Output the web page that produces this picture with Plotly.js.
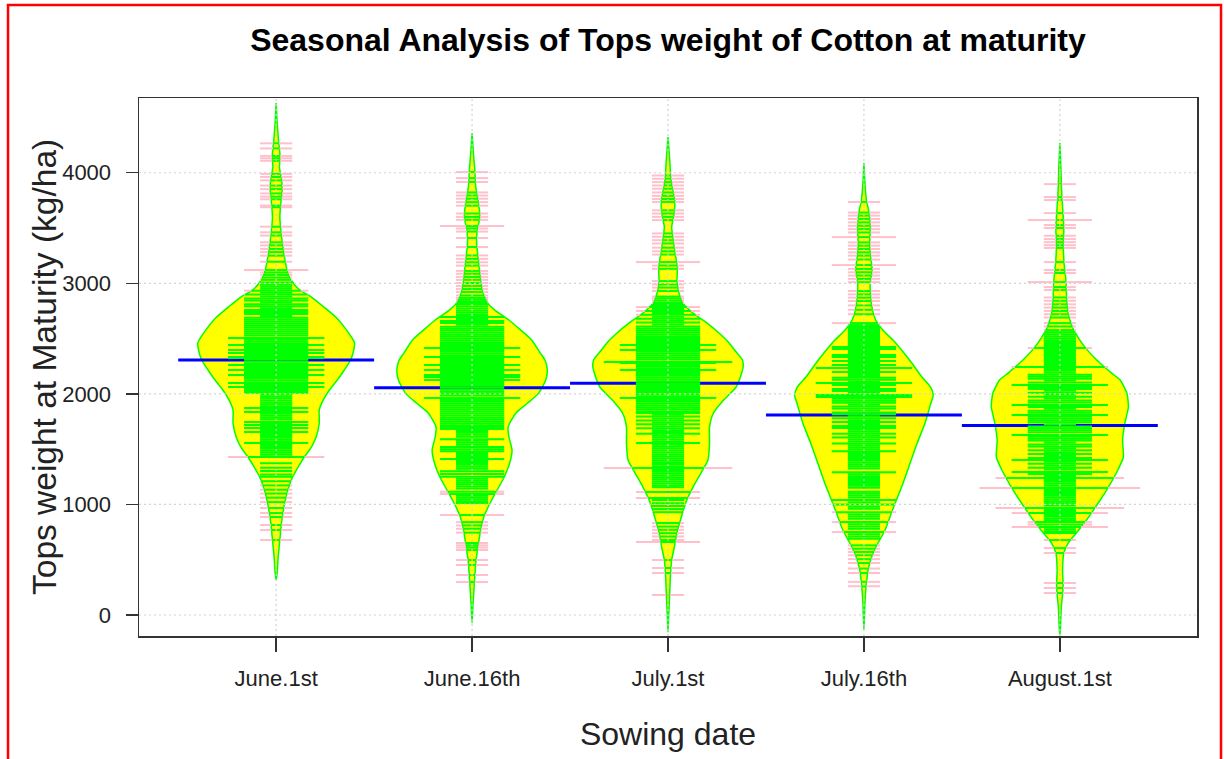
<!DOCTYPE html>
<html><head><meta charset="utf-8">
<script src="https://cdn.plot.ly/plotly-3.0.1.min.js"></script>
<style>html,body{margin:0;padding:0;background:#fff}#chart{width:1224px;height:759px}</style>
</head><body><div id="chart"></div>
<script>
const categories = ["June.1st", "June.16th", "July.1st", "July.16th", "August.1st"];
const meanWeight = [2306, 2055, 2095, 1809, 1715];
const yTicks = [0, 1000, 2000, 3000, 4000];

// individual observations (kg/ha); repeated values = identical observations (stacked beanlines)
const obsJune1 = [4266,4220,4152,4131,4108,3990,3962,3931,3884,3852,3813,3784,3760,3703,3688,3512,3461,3432,3371,3343,3311,3282,3250,3195,3120,3120,
3098,3076,3052,3031,3008,2987,2968,
2950,2933,2933,2915,2898,2898,2880,2862,2862,2845,2845,2828,2810,2810,2793,2793,2775,2758,2758,2740,2740,2722,2722,2705,2688,2688,2670,2670,
2652,2652,2635,2635,2617,2617,2600,2600,2582,2582,2565,2565,2547,2547,2528,2528,2505,2505,2505,2490,2490,2472,2472,2456,2456,2442,2442,2442,2425,2425,2410,2410,2396,2396,2396,2383,2383,2370,2370,2370,2352,2352,2333,2333,2333,2324,2324,2324,2310,2310,2292,2292,2276,2276,2261,2261,2261,2244,2244,2230,2230,2215,2215,2215,2198,2198,2184,2184,2170,2170,2170,2152,2152,2136,2136,2118,2118,2098,2098,2098,2080,2080,2062,2062,2062,2045,2045,2027,2027,2010,2010,
1992,1975,1958,1940,1922,1905,1888,1872,1872,1855,1836,1836,1820,1802,1785,1768,1745,1745,1730,1718,1718,1703,1691,1691,1674,1655,1655,1638,1620,1603,1585,1570,1555,1555,1538,1520,1503,1486,1468,1450,1429,1429,1429,
1372,1331,1302,1271,1250,1210,1172,1133,1098,1061,1021,968,922,886,814,769,678];

const obsJune16 = [4006,3952,3916,3822,3794,3765,3734,3702,3631,3601,3574,3518,3518,3496,3468,3410,3328,3252,3221,3190,3160,3112,3086,3058,3031,3002,2976,2948,2921,2890,
2868,2850,2831,2812,2793,2772,2752,2733,2714,
2695,2695,2678,2660,2660,2642,2642,2625,2607,2607,2590,2590,2572,2572,2555,2555,2537,2537,2520,2520,2502,2502,2485,2485,2467,2467,2450,2450,2432,2432,2414,2414,2414,2397,2397,2380,2380,2362,2362,2345,2345,2333,2333,2333,2315,2315,2298,2298,2280,2280,2261,2261,2261,2244,2244,2230,2230,2216,2216,2216,2198,2198,2184,2184,2170,2170,2170,2152,2152,2152,2138,2138,2125,2125,2125,2108,2108,2090,2090,2073,2073,2055,2055,2038,2038,2020,2020,2003,2003,1985,1985,1962,1962,1962,1945,1945,1928,1928,1910,1910,1893,1893,1875,1875,1858,1858,1840,1840,1822,1822,1805,1805,1787,1787,1770,1770,1752,1752,1735,1735,1717,1717,1700,1700,1683,1683,
1665,1648,1630,1612,1590,1590,1575,1557,1540,1520,1520,1500,1500,1480,1480,1465,1448,1430,1410,1410,1393,1375,1358,1340,1322,1300,1300,1275,1275,1250,1250,1232,1215,1197,1180,1162,1145,1115,1115,1095,1095,1078,1060,1042,1025,1013,
904,904,840,810,780,745,651,630,610,588,497,452,362,298];

const obsJuly1 = [3975,3946,3915,3885,3855,3822,3791,3762,3735,3660,3631,3601,3572,3451,3421,3390,3360,3322,3290,3260,3192,3192,3160,3131,3020,2990,2961,2930,
2880,2862,2843,2822,2803,
2785,2785,2768,2750,2750,2732,2715,2715,2697,2680,2680,2662,2645,2645,2627,2610,2610,
2592,2592,2575,2575,2557,2557,2540,2540,2522,2522,2505,2505,2487,2487,2470,2470,2455,2455,2442,2442,2442,2425,2425,2410,2410,2396,2396,2396,2380,2380,2362,2362,2345,2345,2327,2327,2310,2310,2288,2288,2288,2288,2279,2279,2279,2262,2262,2245,2245,2230,2230,2216,2216,2216,2198,2198,2180,2180,2163,2163,2145,2145,2128,2128,2110,2110,2095,2095,2080,2080,2062,2062,2045,2045,2027,2027,2010,2010,1992,1992,1975,1975,1962,1962,1962,1945,1945,1928,1928,1910,1910,1893,1893,1875,1875,1858,1858,1840,1840,1827,1827,
1810,1795,1795,1778,1760,1760,1742,1725,1725,1708,1690,1690,1672,1655,1640,1640,1622,1605,1587,1570,1555,1555,1540,1522,1505,1487,1470,1452,1435,1417,1400,1382,1365,1346,1329,1329,1329,1329,1312,1295,1277,1260,1242,1225,1208,1190,1172,1155,1112,1112,1058,1058,1040,1010,985,958,930,832,800,770,740,710,678,660,660,497,425,380,181];

const obsJuly16 = [3735,3640,3612,3582,3551,3520,3490,3460,3418,3418,3370,3340,3310,3280,3250,3215,3165,3165,3130,3100,3070,3040,3010,2930,2900,2870,2840,2800,2760,2720,2640,2640,
2622,2604,2586,2568,2550,2532,2514,2496,2478,2460,2442,2424,2424,2406,2406,2388,2370,2352,2352,2334,2334,2316,2298,2298,2280,2262,2262,2245,2233,2233,2233,2215,2198,2198,2180,2162,2145,2145,2128,2128,2110,2098,2098,2098,2080,2080,2062,2045,2045,2027,2027,2010,1990,1990,1990,1971,1971,1971,1955,1955,1938,1938,1920,1920,1902,1885,1885,1868,1868,1850,1832,1832,1815,1815,1798,1780,1780,1762,1745,1745,1728,1710,1710,1692,1692,1675,1658,1640,1640,1622,1605,1605,1588,1570,1552,1552,1535,1518,1500,1482,1482,1465,1448,1430,1412,1395,1378,1360,1342,1325,1290,1290,1272,1255,1238,1220,1202,1185,1168,1150,1115,1098,1080,1062,1040,1040,1020,1000,1000,980,962,930,930,910,890,870,840,840,820,800,780,750,750,730,710,690,
630,600,570,540,505,470,420,380,300,260];

const obsAugust1 = [3897,3780,3753,3635,3572,3572,3527,3500,3430,3400,3372,3345,3320,3192,3120,3093,3011,3011,2966,2939,2872,2842,2810,2780,2750,2720,2690,2640,2610,
2577,2558,2540,2522,2504,2486,2468,2450,2432,2414,2414,2396,2378,2360,2342,2324,2306,2288,2270,2256,2243,2243,2243,2226,2208,2190,2172,2172,2155,2155,2137,2137,2120,2102,2102,2080,2080,2080,2062,2062,2045,2045,2028,2010,2010,1992,1975,1975,1958,1940,1940,1922,1922,1899,1899,1899,1882,1882,1865,1848,1848,1830,1830,1809,1809,1809,1792,1792,1775,1775,1757,1757,1740,1740,1722,1705,1705,1688,1688,1670,1670,1652,1652,1628,1628,1628,1612,1612,1595,1595,1578,1578,1560,1542,1542,1525,1525,1508,1490,1490,1472,1455,1455,1438,1420,1420,1402,1402,1402,1385,1367,1367,1350,1332,1332,1315,1293,1293,1293,1275,1275,1258,1239,1239,1239,1239,1222,1205,1188,1170,1148,1148,1148,1148,1148,1130,1112,1095,1078,1060,1043,1025,1008,990,968,968,968,968,950,935,922,922,922,905,888,870,855,840,840,818,818,796,796,796,775,758,741,678,605,561,289,244,199];

// bean density profiles (relative density, widest bean = 1)
const densLevelsJune1 = [316,380,525,678,832,977,1130,1248,1338,1429,1519,1610,1736,1854,1944,2035,2125,2216,2306,2396,2460,2514,2604,2695,2785,2876,2939,3030,3120,3237,3364,3482,3600,3725,3843,3934,4051,4142,4295,4449,4630];
const densJune1 = [0,.013,.026,.047,.068,.10,.15,.21,.28,.36,.45,.51,.55,.55,.60,.68,.78,.87,.95,.99,1.0,.96,.87,.76,.61,.45,.30,.19,.14,.106,.08,.06,.047,.06,.077,.07,.042,.051,.03,.013,0];
const densLevelsJune16 = [-72,109,253,380,497,651,769,886,1013,1130,1248,1375,1492,1610,1700,1827,1917,2007,2125,2216,2306,2369,2487,2577,2668,2758,2821,2912,3002,3120,3237,3364,3482,3599,3753,3870,4024,4178,4359];
const densJune16 = [0,.013,.026,.038,.051,.083,.11,.15,.23,.32,.41,.48,.51,.47,.46,.56,.71,.85,.94,.96,.93,.87,.76,.62,.47,.29,.20,.14,.115,.096,.077,.058,.067,.10,.077,.047,.035,.017,0];
const densLevelsJuly1 = [-153,-45,199,344,497,615,741,886,1040,1157,1284,1402,1555,1700,1827,1944,2062,2188,2250,2306,2396,2460,2550,2640,2731,2821,2912,3029,3147,3274,3391,3509,3635,3753,3870,3961,4115,4323];
const densJuly1 = [0,.006,.022,.03,.047,.081,.115,.17,.24,.32,.42,.51,.53,.53,.58,.71,.87,.94,.96,.95,.85,.78,.65,.50,.32,.19,.14,.115,.12,.09,.068,.047,.081,.086,.055,.035,.022,0];
const densLevelsJuly16 = [-136,109,289,407,525,651,769,922,1067,1194,1375,1555,1736,1917,1990,2062,2152,2279,2396,2487,2577,2668,2758,2876,3002,3120,3237,3364,3509,3635,3753,3906,4087];
const densJuly16 = [0,.013,.032,.054,.099,.18,.27,.35,.43,.50,.59,.68,.78,.855,.885,.85,.74,.61,.48,.37,.24,.15,.11,.086,.08,.106,.086,.074,.083,.067,.032,.013,0];
const densLevelsAugust1 = [-180,-136,72,253,407,561,651,741,859,1013,1157,1311,1429,1583,1736,1881,1971,2007,2125,2188,2306,2423,2514,2604,2731,2876,3029,3183,3328,3509,3690,3843,4051,4268];
const densAugust1 = [0,.006,.019,.042,.035,.051,.106,.21,.34,.49,.62,.74,.81,.80,.83,.875,.865,.855,.77,.66,.47,.32,.23,.16,.106,.086,.077,.054,.045,.051,.035,.022,.013,0];

// ---------- drawing ----------
const obsAll = [obsJune1, obsJune16, obsJuly1, obsJuly16, obsAugust1];
const levAll = [densLevelsJune1, densLevelsJune16, densLevelsJuly1, densLevelsJuly16, densLevelsAugust1];
const denAll = [densJune1, densJune16, densJuly1, densJuly16, densAugust1];
const BEAN_HALF = 0.40;   // half of the maximum bean width (x units)
const LINE_HALF = 0.082;  // half length of one beanline per stacked observation
const MEAN_HALF = 0.5;
const FONT = 'Liberation Sans, Arial, Helvetica, sans-serif';

function halfWidthAt(lev, den, v) {
  if (v <= lev[0] || v >= lev[lev.length - 1]) return 0;
  for (let i = 1; i < lev.length; i++) {
    if (v <= lev[i]) {
      const t = (v - lev[i - 1]) / (lev[i] - lev[i - 1]);
      return (den[i - 1] + t * (den[i] - den[i - 1])) * BEAN_HALF;
    }
  }
  return 0;
}

const traces = [];
// beans
categories.forEach((c, i) => {
  const pos = i + 1, lev = levAll[i], den = denAll[i];
  const xs = [], ys = [];
  for (let k = 0; k < lev.length; k++) { xs.push(pos + den[k] * BEAN_HALF); ys.push(lev[k]); }
  for (let k = lev.length - 1; k >= 0; k--) { xs.push(pos - den[k] * BEAN_HALF); ys.push(lev[k]); }
  traces.push({type: 'scatter', mode: 'lines', x: xs, y: ys, fill: 'toself', fillcolor: '#ffff00',
    line: {color: '#00ff00', width: 1.5, shape: 'spline', smoothing: 0.6}, hoverinfo: 'skip', showlegend: false});
});
// mean lines
{
  const xs = [], ys = [];
  categories.forEach((c, i) => { xs.push(i + 1 - MEAN_HALF, i + 1 + MEAN_HALF, null); ys.push(meanWeight[i], meanWeight[i], null); });
  traces.push({type: 'scatter', mode: 'lines', x: xs, y: ys, line: {color: '#0000ff', width: 3}, hoverinfo: 'skip', showlegend: false});
}
// beanlines
{
  const gx = [], gy = [], px = [], py = [];
  categories.forEach((c, i) => {
    const pos = i + 1, counts = new Map();
    obsAll[i].forEach(v => counts.set(v, (counts.get(v) || 0) + 1));
    counts.forEach((n, v) => {
      const h = LINE_HALF * n, w = halfWidthAt(levAll[i], denAll[i], v);
      if (w >= h) { gx.push(pos - h, pos + h, null); gy.push(v, v, null); }
      else {
        if (w > 0) { gx.push(pos - w, pos + w, null); gy.push(v, v, null); }
        px.push(pos - h, pos - w, null, pos + w, pos + h, null); py.push(v, v, null, v, v, null);
      }
    });
  });
  traces.push({type: 'scatter', mode: 'lines', x: px, y: py, line: {color: '#ffc0cb', width: 2}, hoverinfo: 'skip', showlegend: false});
  traces.push({type: 'scatter', mode: 'lines', x: gx, y: gy, line: {color: '#00ff00', width: 2}, hoverinfo: 'skip', showlegend: false});
}

const shapes = [];
yTicks.forEach(t => shapes.push({type: 'line', xref: 'paper', yref: 'y', x0: 0, x1: 1, y0: t, y1: t, layer: 'above',
  line: {color: '#d3d3d3', width: 1.2, dash: '2px,3px'}}));
categories.forEach((c, i) => shapes.push({type: 'line', xref: 'x', yref: 'paper', x0: i + 1, x1: i + 1, y0: 0, y1: 1, layer: 'above',
  line: {color: '#d3d3d3', width: 1.2, dash: '2px,3px'}}));
// red frame around the figure
shapes.push({type: 'rect', xref: 'paper', yref: 'paper', x0: -0.1238, x1: 1.0227, y0: -0.24, y1: 1.1729, layer: 'above',
  line: {color: '#ff0000', width: 2.5}, fillcolor: 'rgba(0,0,0,0)'});

const layout = {
  width: 1224, height: 759,
  margin: {l: 139, r: 27, t: 98, b: 123, pad: 0},
  paper_bgcolor: '#ffffff', plot_bgcolor: '#ffffff',
  showlegend: false,
  font: {family: FONT, color: '#222'},
  title: {text: 'Seasonal Analysis of Tops weight of Cotton at maturity', font: {family: FONT, size: 32, color: '#000', weight: 'bold'},
    xref: 'paper', x: 0.5, xanchor: 'center', yref: 'container', y: 0.947, yanchor: 'middle'},
  xaxis: {range: [0.3, 5.7], tickvals: [1, 2, 3, 4, 5], ticktext: categories, ticks: 'outside', ticklen: 14, tickwidth: 1.5, tickcolor: '#333',
    showline: true, mirror: true, linecolor: '#333', linewidth: 1.5, showgrid: false, zeroline: false,
    tickfont: {family: FONT, size: 22, color: '#222'}, ticklabelstandoff: 8,
    title: {text: 'Sowing date', font: {family: FONT, size: 32, color: '#222'}, standoff: 32}},
  yaxis: {range: [-190, 4676], tickvals: yTicks, ticks: 'outside', ticklen: 12, tickwidth: 1.5, tickcolor: '#333',
    showline: true, mirror: true, linecolor: '#333', linewidth: 1.5, showgrid: false, zeroline: false,
    tickfont: {family: FONT, size: 22, color: '#222'}, ticklabelstandoff: 10},
  annotations: [{text: 'Tops weight at Maturity (kg/ha)', xref: 'paper', yref: 'paper', x: -0.0898, y: 0.5,
    xanchor: 'center', yanchor: 'middle', textangle: -90, showarrow: false, font: {family: FONT, size: 33.5, color: '#222'}}],
  shapes: shapes
};

Plotly.newPlot('chart', traces, layout, {displayModeBar: false, staticPlot: true});
</script>
</body></html>
